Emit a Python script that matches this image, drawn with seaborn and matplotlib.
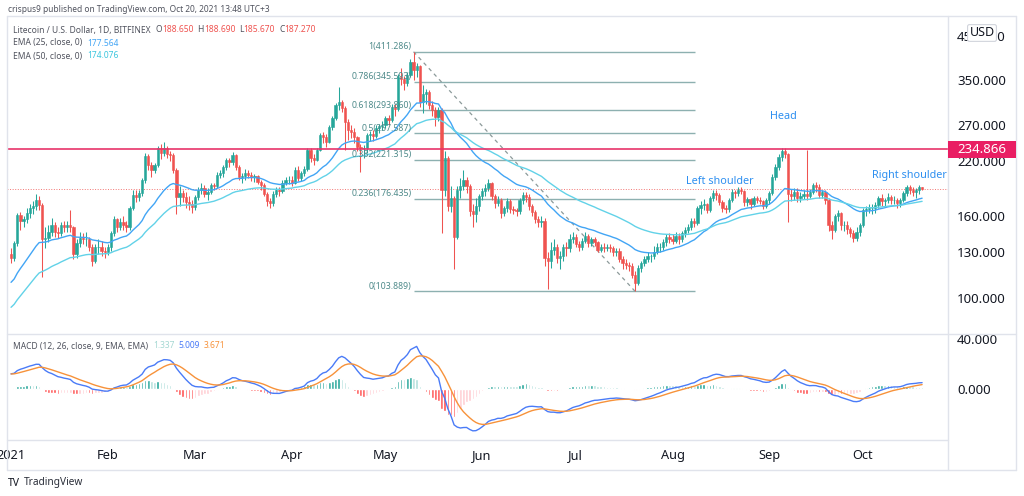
import numpy as np
import pandas as pd
import matplotlib
matplotlib.use("Agg")
import matplotlib.pyplot as plt
from matplotlib.lines import Line2D
from matplotlib.patches import Rectangle
from matplotlib.ticker import NullLocator
import seaborn as sns

# Daily LTC/USD candles, Jan 1 - Oct 20 2021
close_jan = [126, 137, 161, 156, 157, 163, 168, 170, 176, 171, 140, 141, 146, 152, 146, 145,
             152, 150, 152, 150, 129, 137, 141, 140, 140, 134, 124, 134, 134, 131, 130]
high_jan = [133, 139, 163, 164, 160, 168, 172, 175, 182, 180, 173, 150, 152, 158, 155, 150,
            155, 156, 156, 166, 151, 140, 146, 145, 146, 142, 136, 136, 140, 139, 134]
low_jan = [122, 124, 135, 148, 150, 154, 158, 162, 166, 166, 113, 133, 138, 143, 142, 141,
           143, 146, 146, 146, 125, 126, 134, 136, 135, 131, 120, 122, 129, 127, 126]

close_feb = [134, 145, 157, 150, 155, 152, 150, 168, 181, 179, 183, 197, 226, 215, 208, 214,
             236, 230, 236, 228, 227, 209, 179, 183, 179, 174, 172, 169]
high_feb = [136, 147, 160, 158, 158, 160, 156, 170, 186, 186, 186, 199, 230, 228, 218, 217,
            240, 242, 245, 239, 233, 230, 211, 190, 186, 184, 180, 176]
low_feb = [128, 131, 143, 146, 148, 148, 146, 148, 166, 174, 175, 180, 194, 208, 200, 205,
           212, 222, 226, 224, 220, 205, 162, 170, 174, 168, 166, 163]

close_mar = [179, 186, 188, 182, 184, 191, 190, 203, 205, 212, 221, 218, 227, 212, 200, 201,
             205, 203, 200, 201, 195, 191, 182, 175, 173, 182, 186, 185, 194, 197, 197]
high_mar = [181, 189, 193, 191, 188, 194, 194, 206, 209, 215, 224, 224, 231, 228, 214, 205,
            210, 208, 206, 204, 203, 197, 194, 184, 178, 185, 189, 189, 197, 200, 202]
low_mar = [166, 176, 182, 179, 176, 182, 186, 188, 199, 200, 208, 212, 214, 208, 197, 194,
           197, 199, 196, 195, 192, 186, 180, 170, 168, 170, 179, 180, 183, 191, 192]

close_apr = [194, 209, 199, 205, 210, 234, 224, 221, 234, 255, 252, 245, 267, 281, 303, 309,
             298, 275, 262, 260, 252, 238, 236, 236, 255, 257, 254, 266, 268, 270]
high_apr = [201, 212, 213, 207, 213, 237, 236, 228, 237, 258, 260, 256, 270, 284, 306, 336,
            312, 302, 279, 270, 265, 254, 242, 241, 258, 261, 262, 270, 272, 276]
low_apr = [190, 192, 196, 196, 201, 207, 218, 214, 219, 232, 244, 238, 243, 262, 278, 294,
           291, 234, 248, 250, 244, 232, 206, 224, 230, 246, 246, 250, 258, 262]

close_may = [281, 278, 300, 296, 356, 352, 343, 360, 388, 370, 378, 308, 322, 326, 303, 295,
             282, 295, 186, 223, 170, 178, 142, 186, 190, 197, 190, 165, 162, 170, 180]
high_may = [284, 286, 304, 305, 362, 375, 358, 366, 395, 411, 385, 382, 340, 332, 330, 310,
            300, 300, 298, 232, 226, 190, 180, 190, 199, 209, 200, 192, 172, 178, 182]
low_may = [266, 270, 275, 284, 292, 340, 330, 338, 355, 350, 356, 300, 290, 305, 296, 285,
           268, 276, 145, 180, 165, 164, 118, 140, 178, 186, 183, 160, 150, 155, 165]

close_jun = [185, 188, 194, 180, 173, 176, 163, 168, 175, 167, 166, 165, 176, 181, 179, 170,
             164, 157, 155, 156, 126, 124, 132, 134, 126, 127, 134, 133, 140, 142]
high_jun = [188, 192, 198, 195, 182, 180, 178, 170, 178, 177, 170, 168, 178, 184, 184, 182,
            172, 166, 160, 160, 158, 130, 138, 140, 136, 131, 136, 138, 144, 146]
low_jun = [176, 180, 185, 176, 168, 170, 158, 160, 164, 163, 162, 160, 162, 172, 174, 166,
           160, 154, 150, 150, 120, 105, 119, 128, 122, 118, 124, 127, 130, 137]

close_jul = [136, 134, 139, 143, 137, 140, 138, 132, 134, 133, 134, 133, 130, 131, 125, 122,
             121, 120, 114, 109, 119, 122, 125, 127, 127, 130, 134, 134, 138, 142, 140]
high_jul = [144, 139, 141, 146, 144, 142, 142, 139, 136, 137, 136, 136, 135, 133, 133, 127,
            125, 123, 122, 117, 121, 124, 127, 130, 129, 135, 137, 137, 140, 144, 145]
low_jul = [134, 131, 132, 137, 134, 135, 135, 130, 130, 130, 131, 130, 127, 127, 123, 118,
           118, 117, 112, 104, 108, 116, 120, 123, 123, 125, 129, 130, 132, 135, 137]

close_aug = [139, 143, 140, 145, 148, 150, 156, 154, 168, 171, 172, 166, 178, 183, 181, 174,
             168, 167, 176, 184, 183, 186, 185, 174, 177, 172, 178, 176, 175, 170, 176]
high_aug = [144, 146, 145, 147, 150, 153, 158, 158, 170, 175, 177, 173, 180, 186, 186, 183,
            176, 171, 178, 187, 186, 189, 189, 186, 179, 178, 180, 180, 179, 176, 178]
low_aug = [136, 137, 136, 138, 142, 145, 148, 150, 152, 162, 166, 163, 164, 175, 176, 171,
           164, 163, 164, 174, 178, 180, 182, 170, 170, 167, 170, 173, 172, 167, 168]

close_sep = [183, 200, 212, 225, 232, 228, 182, 180, 184, 178, 180, 182, 180, 184, 191, 189,
             181, 184, 176, 152, 148, 160, 163, 152, 152, 149, 145, 141, 146, 152]
high_sep = [185, 204, 216, 229, 236, 236, 230, 187, 188, 188, 184, 186, 234, 187, 194, 195,
            192, 186, 186, 178, 156, 162, 166, 164, 156, 156, 150, 148, 150, 154]
low_sep = [172, 181, 197, 208, 220, 224, 155, 175, 176, 174, 174, 177, 176, 178, 182, 184,
           178, 178, 172, 147, 140, 146, 156, 148, 147, 144, 142, 138, 139, 143]

close_oct = [166, 167, 168, 168, 171, 178, 175, 176, 179, 176, 176, 173, 176, 183, 189, 186,
             184, 186, 189, 187.27]
high_oct = [168, 170, 172, 172, 174, 180, 182, 178, 183, 181, 180, 178, 178, 185, 191, 191,
            189, 188, 191, 188.69]
low_oct = [150, 160, 163, 162, 163, 168, 170, 170, 173, 172, 172, 168, 169, 174, 180, 182,
           180, 178, 182, 185.67]

first_open = 129
ema25_seed, ema50_seed = 108, 93.5
ema12_seed, ema26_seed, signal_seed = 119, 106.5, 12

month_pos = [0, 31, 59, 90, 120, 151, 181, 212, 243, 273]
month_labels = ["2021", "Feb", "Mar", "Apr", "May", "Jun", "Jul", "Aug", "Sep", "Oct"]
price_ticks = [100, 130, 160, 220, 270, 350, 450]
macd_ticks = [0, 40]

fib_ratios = ["1", "0.786", "0.618", "0.5", "0.382", "0.236", "0"]
fib_levels = [411.286, 345.593, 293.860, 257.587, 221.315, 176.435, 103.889]
fib_start, fib_end = 129, 219.2
trend_x = [129, 200]
trend_y = [411.286, 103.889]
neckline = 234.866
last_price = 187.27

closes = (close_jan + close_feb + close_mar + close_apr + close_may + close_jun +
          close_jul + close_aug + close_sep + close_oct)
highs = (high_jan + high_feb + high_mar + high_apr + high_may + high_jun +
         high_jul + high_aug + high_sep + high_oct)
lows = (low_jan + low_feb + low_mar + low_apr + low_may + low_jun +
        low_jul + low_aug + low_sep + low_oct)
opens = [first_open] + closes[:-1]

df = pd.DataFrame({"open": opens, "high": highs, "low": lows, "close": closes})
df["day"] = np.arange(len(df))


def ema(values, span, seed):
    s = pd.Series([seed] + list(values)).ewm(span=span, adjust=False).mean()
    return s.iloc[1:].to_numpy()


df["ema25"] = ema(df["close"], 25, ema25_seed)
df["ema50"] = ema(df["close"], 50, ema50_seed)
df["macd"] = ema(df["close"], 12, ema12_seed) - ema(df["close"], 26, ema26_seed)
df["signal"] = ema(df["macd"], 9, signal_seed)
df["hist"] = df["macd"] - df["signal"]

UP, DOWN = "#26a69a", "#ef5350"
GRID = "#e0e3eb"
TXT = "#131722"
LEG = "#50535e"

sns.set_style("white")
plt.rcParams["font.family"] = ["Noto Sans", "DejaVu Sans"]

W, H = 1024, 496
fig = plt.figure(figsize=(W / 100, H / 100), dpi=100)


def fx(px):
    return px / W


def fy(py):
    return 1 - py / H


ax = fig.add_axes([fx(7), fy(334), fx(948) - fx(7), fy(16) - fy(334)])
ax2 = fig.add_axes([fx(7), fy(440), fx(948) - fx(7), fy(334) - fy(440)])

# Candles
colors = np.where(df["close"] >= df["open"], UP, DOWN)
ax.vlines(df["day"], df["low"], df["high"], colors=colors, lw=0.75, zorder=3)
ax.bar(df["day"], (df["close"] - df["open"]).abs(), bottom=df[["open", "close"]].min(axis=1),
       width=0.72, color=colors, edgecolor=colors, lw=0.4, zorder=4)

sns.lineplot(data=df, x="day", y="ema25", ax=ax, color="#42a5f5", lw=1, zorder=5)
sns.lineplot(data=df, x="day", y="ema50", ax=ax, color="#62d2e8", lw=1, zorder=5)

ax.set_yscale("log")
ax.set_ylim(81.3, 505)
ax.set_xlim(-1.3, 300.3)

# levels and drawings
ax.axhline(neckline, color="#e8336a", lw=1.2, zorder=6)
ax.axhline(last_price, color=DOWN, lw=0.7, ls=":", alpha=0.8, zorder=2)
ax.hlines(fib_levels, fib_start, fib_end, color="#8db0b0", lw=1, zorder=2)
for r, lv in zip(fib_ratios, fib_levels):
    ax.text(fib_start - 0.6, lv * 1.004, f"{r}({lv:.3f})", ha="right", va="bottom",
            fontsize=6.3, color="#4e8a8a", zorder=7)
ax.plot(trend_x, trend_y, color="#8c9a9a", lw=0.9, ls=(0, (3, 3)), zorder=2)

ax.text(247.4, 283, "Head", color="#2d8ff0", fontsize=7.8, ha="center", va="center")
ax.text(227.2, 194.8, "Left shoulder", color="#2d8ff0", fontsize=7.8, ha="center", va="center")
ax.text(288.1, 201.5, "Right shoulder", color="#2d8ff0", fontsize=7.8, ha="center", va="center")

ax.yaxis.tick_right()
ax.set_yticks(price_ticks)
ax.set_yticklabels([f"{t:.3f}" for t in price_ticks])
ax.yaxis.set_minor_locator(NullLocator())
ax.tick_params(axis="y", length=0, pad=6.5, labelsize=9.5, labelcolor=TXT)
ax.set_xticks([])
ax.set_xlabel("")
ax.set_ylabel("")

# MACD pane
hist = df["hist"].to_numpy()
prev = np.concatenate([[hist[0]], hist[:-1]])
hcol = np.where(hist >= 0, np.where(hist > prev, UP, "#b2dfdb"),
                np.where(hist > prev, "#ffcdd2", "#ff5252"))
ax2.bar(df["day"], hist, width=0.8, color=hcol, zorder=2)
sns.lineplot(data=df, x="day", y="macd", ax=ax2, color="#4a7bf7", lw=1, zorder=3)
sns.lineplot(data=df, x="day", y="signal", ax=ax2, color="#f7923a", lw=1, zorder=3)
ax2.set_xlim(-1.3, 300.3)
ax2.set_ylim(-40.8, 44)
ax2.yaxis.tick_right()
ax2.set_yticks(macd_ticks)
ax2.set_yticklabels([f"{t:.3f}" for t in macd_ticks])
ax2.tick_params(axis="y", length=0, pad=6.5, labelsize=9.5, labelcolor=TXT)
ax2.set_xticks(month_pos)
ax2.set_xticklabels(month_labels)
ax2.tick_params(axis="x", length=0, pad=6.5, labelsize=9.2, labelcolor=TXT)
ax2.get_xticklabels()[0].set_fontweight("bold")
ax2.set_xlabel("")
ax2.set_ylabel("")

for a in (ax, ax2):
    for s in a.spines.values():
        s.set_visible(False)

# frame
for x0, y0, x1, y1 in [(7, 16, 1016, 16), (7, 334, 1016, 334), (7, 440, 948, 440),
                       (7, 470, 1016, 470), (7, 16, 7, 470), (948, 16, 948, 470),
                       (1016, 16, 1016, 470)]:
    fig.add_artist(Line2D([fx(x0), fx(x1)], [fy(y0), fy(y1)], color=GRID, lw=1))

# neckline price label
fig.canvas.draw()
ymid = ax.transData.transform((0, neckline))[1]
fig.add_artist(Rectangle((fx(948), (ymid - 8.5) / H), 68 / W, 17 / H,
                         transform=fig.transFigure, fc="#e91e63", ec="none", zorder=10))
fig.text(fx(982), ymid / H, f"{neckline:.3f}", color="white", fontsize=9.5,
         ha="center", va="center", zorder=11)
fig.text(fx(982), fy(33), "USD", color=TXT, fontsize=9, ha="center", va="center", zorder=11,
         bbox=dict(boxstyle="round,pad=0.15", fc="white", ec="#d1d4dc", lw=0.8))

renderer = fig.canvas.get_renderer()


def text_run(x, y, pieces, size):
    for s, c, gap in pieces:
        t = fig.text(fx(x), fy(y), s, color=c, fontsize=size, ha="left", va="center", zorder=12)
        x += t.get_window_extent(renderer).width + gap


fig.text(fx(8), fy(10), "crispus9 published on TradingView.com, Oct 20, 2021 13:48 UTC+3",
         color=LEG, fontsize=6.0, ha="left", va="center")
text_run(13, 30, [("Litecoin / U.S. Dollar, 1D, BITFINEX", LEG, 5),
                  ("O", LEG, 0), ("188.650", DOWN, 4),
                  ("H", LEG, 0), ("188.690", DOWN, 4),
                  ("L", LEG, 0), ("185.670", DOWN, 4),
                  ("C", LEG, 0), ("187.270", DOWN, 0)], 6.1)
text_run(13, 43, [("EMA (25, close, 0)", LEG, 5), ("177.564", "#42a5f5", 0)], 6.1)
text_run(13, 56, [("EMA (50, close, 0)", LEG, 5), ("174.076", "#3cc6de", 0)], 6.1)
text_run(13, 346, [("MACD (12, 26, close, 9, EMA, EMA)", LEG, 5),
                   ("1.337", "#a5d8d3", 4), ("5.009", "#4a7bf7", 4),
                   ("3.671", "#f7923a", 0)], 6.1)

fig.text(fx(8), fy(483), "TV", color=TXT, fontsize=7.5, fontweight="bold", ha="left", va="center")
fig.text(fx(24), fy(483), "TradingView", color="#2a2e39", fontsize=7.3, ha="left", va="center")

fig.savefig("out.png", dpi=100)
